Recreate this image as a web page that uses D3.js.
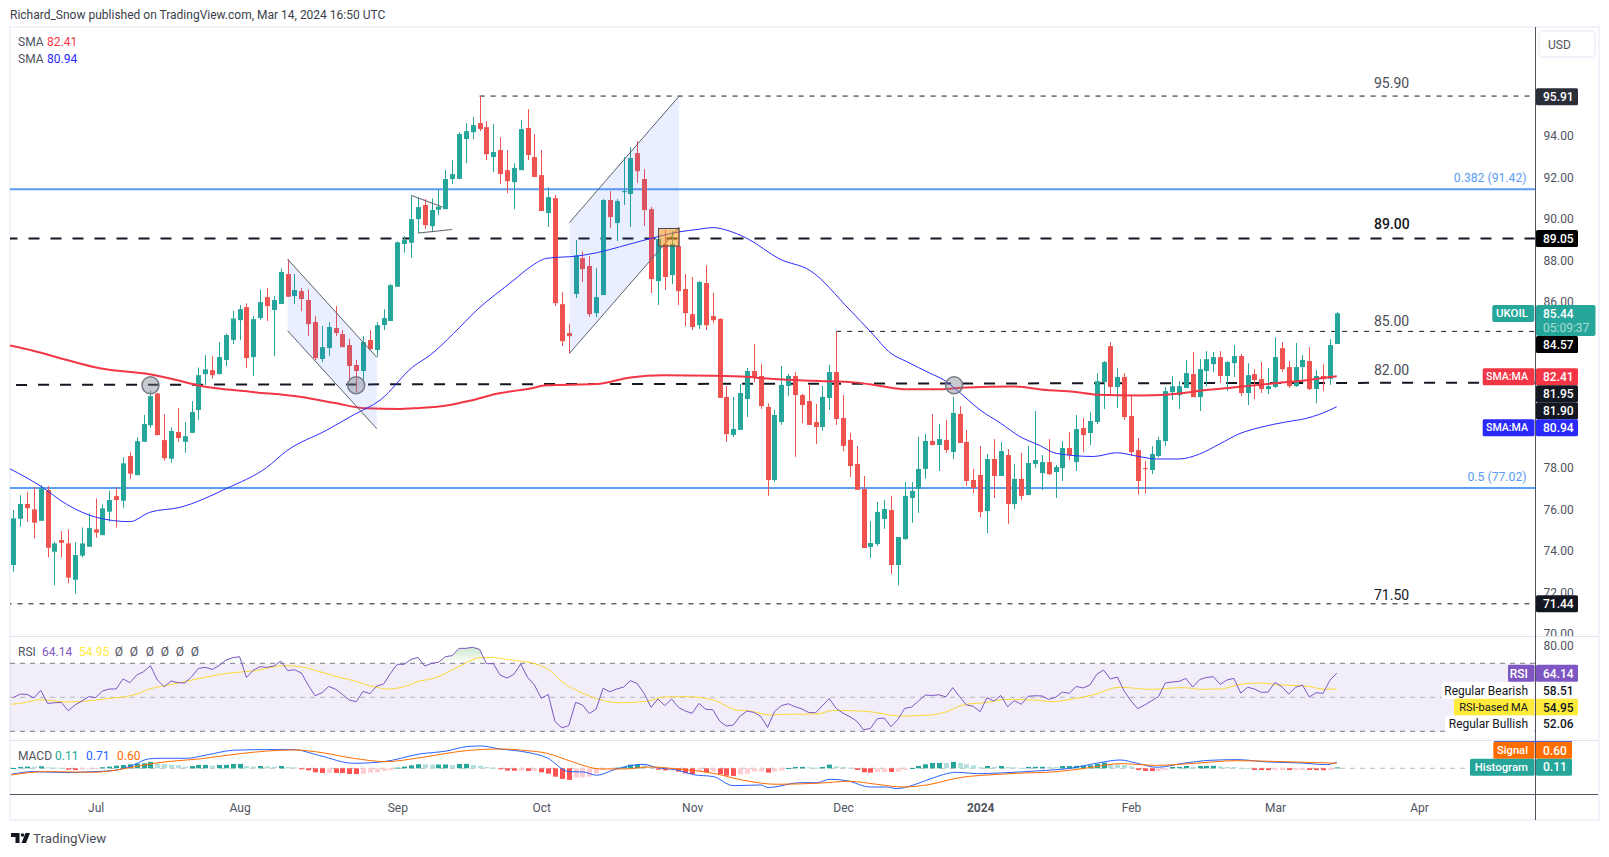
<!DOCTYPE html>
<html>
<head>
<meta charset="utf-8">
<title>UKOIL</title>
<script src="https://cdn.jsdelivr.net/npm/d3@7/dist/d3.min.js"></script>
<style>
    html, body { margin: 0; padding: 0; background: #fff; }
    svg { display: block; }
    text { font-family: Roboto, "Noto Sans", sans-serif; }
</style>
</head>
<body>
<div id="canvas"></div>
<script>
"use strict"

/* Configuration variables: drawing */
let svgWidth = 1609;
let svgHeight = 857;
let paneLeft = 10;
let axisX = 1535.5;
let frameRight = 1599;

/* Daily candles, oldest first: open, high, low, close */
let candles = [
    [73.31,75.96,72.99,75.56],[75.54,76.68,75.15,76.25],[76.25,76.84,75.40,76.05],[75.99,77.08,74.59,75.35],[75.44,77.16,75.44,77.00],
    [76.92,77.11,73.68,74.14],[73.95,74.43,72.34,74.35],[74.51,74.95,73.68,74.38],[74.35,75.03,72.42,72.70],[72.60,74.40,71.94,73.79],
    [73.76,75.12,73.68,74.35],[74.19,75.80,74.19,75.09],[75.03,76.52,74.62,74.87],[74.75,76.23,74.75,76.04],[75.88,76.89,75.40,76.44],
    [76.63,77.05,75.11,76.44],[76.41,78.50,76.07,78.21],[78.56,78.74,77.44,77.71],[77.64,79.46,77.64,79.28],[79.25,80.54,79.25,80.10],
    [80.05,81.71,79.93,81.45],[81.58,81.61,79.57,79.57],[79.33,80.58,78.34,78.46],[78.43,79.94,78.24,79.77],[79.72,80.87,79.25,79.43],
    [79.25,80.20,78.72,79.52],[79.68,81.21,79.68,80.68],[80.78,82.83,80.30,82.46],[82.51,83.43,81.98,82.74],[82.70,83.38,82.29,82.46],
    [82.51,84.05,82.51,83.33],[83.19,84.47,82.90,84.39],[84.15,85.56,83.96,85.19],[85.11,85.84,84.15,85.64],[85.74,85.92,82.80,83.28],
    [83.33,85.31,82.42,85.16],[85.21,86.59,85.11,85.98],[86.22,86.66,85.07,85.79],[85.60,86.27,83.38,86.08],[85.89,87.60,85.89,87.43],
    [87.33,88.05,86.24,86.24],[86.27,87.33,85.89,86.56],[86.51,86.66,85.55,86.13],[86.08,86.59,84.34,84.92],[85.02,85.31,83.19,83.28],
    [83.24,84.83,83.09,83.81],[83.77,85.02,83.38,84.78],[84.73,85.79,84.34,84.49],[84.44,84.63,83.81,83.81],[83.91,84.20,82.22,82.90],
    [82.95,83.19,81.64,82.66],[82.66,84.34,82.22,84.05],[84.15,84.63,83.67,83.72],[83.67,85.02,83.35,84.87],[84.87,85.64,84.63,85.21],
    [85.07,86.85,85.07,86.80],[86.72,88.90,86.72,88.86],[88.78,89.16,88.36,88.97],[88.84,91.12,88.12,89.98],[89.98,91.03,89.29,90.56],
    [90.66,90.95,89.50,89.69],[89.64,90.98,89.35,90.42],[90.43,91.43,90.17,90.58],[90.46,92.34,90.46,91.91],[91.91,92.82,91.67,92.15],
    [91.92,94.17,91.91,94.08],[93.84,94.61,92.68,94.22],[94.17,94.90,93.84,94.51],[94.61,95.91,94.22,94.32],[94.41,94.70,92.82,93.11],
    [92.97,94.56,92.25,93.21],[93.31,93.93,91.67,92.15],[92.34,93.31,91.23,91.81],[91.76,92.68,90.46,92.44],[92.34,94.75,92.34,94.32],
    [94.37,95.28,92.82,93.07],[92.97,94.08,92.01,92.01],[92.10,93.31,90.37,90.37],[90.27,91.52,89.60,91.04],[90.99,91.14,85.79,85.93],
    [85.88,86.46,83.86,84.10],[84.49,84.92,83.51,84.34],[86.37,88.97,86.17,88.23],[88.10,88.42,86.95,87.57],[87.72,88.20,85.26,85.40],
    [85.45,87.62,85.26,86.22],[86.32,90.95,86.32,90.90],[90.90,91.33,89.55,90.08],[89.79,90.95,88.92,90.85],[91.28,92.97,90.66,91.33],
    [91.19,93.45,89.60,92.92],[93.16,93.74,91.72,92.29],[91.91,92.39,89.64,90.42],[90.46,90.56,86.42,87.09],[86.99,89.26,85.84,89.02],
    [88.78,89.45,86.56,87.19],[87.28,89.40,86.85,88.78],[88.68,89.60,85.84,86.51],[86.61,87.33,84.82,85.45],[85.40,87.19,84.63,84.78],
    [84.87,86.99,84.68,86.95],[86.90,87.76,84.63,84.87],[85.31,86.42,84.97,85.11],[85.17,85.20,81.36,81.36],[81.41,81.94,79.24,79.62],
    [79.58,81.41,79.48,79.87],[79.82,82.03,79.82,81.60],[81.31,82.80,80.44,82.66],[82.66,83.96,82.13,82.37],[82.42,83.00,80.83,80.97],
    [80.93,81.10,76.64,77.41],[77.41,80.78,77.31,80.54],[80.20,82.90,80.06,81.99],[81.94,82.52,81.46,82.42],[82.42,82.61,78.52,81.50],
    [81.50,81.55,80.15,81.02],[81.21,82.03,80.06,80.06],[80.20,81.07,79.14,79.96],[79.96,81.94,79.77,81.41],[81.36,82.95,80.78,82.61],
    [82.61,84.57,80.06,80.35],[80.40,81.50,78.80,79.05],[79.34,79.67,77.55,78.08],[78.18,79.05,76.93,76.93],[76.97,77.60,74.13,74.13],
    [74.18,75.43,73.65,74.37],[74.32,76.35,74.23,75.87],[75.53,76.44,75.05,76.01],[75.96,76.64,72.88,73.31],[73.31,74.66,72.33,74.66],
    [74.56,77.31,74.52,76.64],[76.54,77.31,75.34,76.88],[76.97,79.48,75.82,77.94],[77.94,79.62,77.46,79.29],[79.29,80.59,79.09,79.09],
    [79.09,80.11,77.84,79.38],[79.34,80.30,78.71,78.85],[78.76,81.41,78.42,80.64],[80.59,80.97,79.19,79.19],[79.24,79.82,77.12,77.36],
    [77.41,77.94,76.78,77.02],[77.65,79.05,75.62,75.87],[75.91,78.66,74.85,78.42],[78.42,79.38,76.54,77.60],[77.60,79.24,77.60,78.80],
    [78.61,78.90,75.29,76.25],[76.25,78.18,76.01,77.46],[77.46,78.71,76.44,76.64],[76.68,79.05,76.68,78.23],[78.18,80.73,77.99,78.37],
    [77.74,78.61,76.92,78.27],[78.27,79.38,77.64,77.69],[77.79,78.13,76.54,78.03],[77.98,79.28,77.36,78.95],[78.95,79.72,78.37,78.61],
    [78.27,80.54,77.84,79.86],[79.91,80.39,78.75,79.57],[79.67,80.68,79.09,80.25],[80.20,82.56,80.10,82.17],[82.13,83.14,80.83,83.09],
    [83.86,84.05,81.50,81.89],[81.89,82.80,80.87,82.37],[82.37,82.56,80.30,80.44],[80.49,81.50,78.56,78.75],[78.85,79.43,76.71,77.36],
    [77.98,78.32,76.75,77.93],[77.89,79.04,77.69,78.66],[78.56,79.48,78.51,79.33],[79.28,81.89,79.04,81.69],[81.64,82.42,81.26,81.93],
    [81.50,82.17,80.83,81.93],[81.84,83.19,81.84,82.56],[82.51,83.57,81.40,81.40],[81.40,83.23,80.73,82.75],[82.66,83.62,81.93,83.23],
    [82.99,83.57,82.61,83.33],[83.33,83.62,82.08,82.42],[82.42,83.14,81.69,83.09],[83.04,83.91,82.37,83.38],[83.38,83.48,81.45,81.60],
    [81.60,83.04,81.02,82.46],[82.51,82.75,81.31,82.22],[82.27,83.09,81.60,81.79],[81.79,82.80,81.55,81.93],[81.89,84.29,81.84,83.33],
    [83.76,84.05,82.61,82.75],[82.85,83.14,81.84,81.93],[81.93,84.01,81.89,82.85],[82.85,83.43,82.13,83.19],[83.14,83.81,81.74,81.79],
    [81.79,82.70,81.11,82.42],[82.42,82.99,81.69,82.27],[82.28,84.20,81.99,83.91],[83.96,85.50,83.96,85.44]
];

/* Moving averages read at their bends: candle index, value */
let sma200 = [
    [-0.5,83.89],[2.9,83.64],[7.8,83.19],[12.6,82.79],[19.9,82.50],[23.3,82.26],[27.2,81.95],[34.5,81.66],[41.8,81.42],[46.7,81.13],
    [51.5,80.86],[56.4,80.83],[58.3,80.86],[63.2,81.00],[66.6,81.23],[70.5,81.56],[75.4,81.82],[77.8,81.97],[85.1,82.03],[90,82.35],
    [94.8,82.45],[102.1,82.43],[107,82.38],[109.4,82.31],[116.7,82.19],[123,82.10],[126.4,81.94],[130.3,81.78],[135.2,81.78],[139,81.87],
    [145.9,81.91],[150.7,81.74],[154.6,81.66],[158,81.52],[164.3,81.48],[168.2,81.52],[174,81.74],[178.9,81.90],[183.7,82.06],[188.6,82.22],
    [191.5,82.35],[193,82.41]
];
let sma50 = [
    [-0.5,77.95],[3.9,77.13],[7.8,76.23],[12.2,75.60],[17,75.40],[19.9,75.85],[24.3,76.09],[31.1,77.00],[36.9,78.00],[39.9,78.82],
    [45.7,79.81],[49.6,80.54],[53.5,81.26],[58.3,82.87],[60.8,83.43],[64.2,84.47],[67.6,85.60],[73,87.04],[75.4,87.68],[77.8,88.09],
    [82.2,88.20],[85.1,88.36],[88.5,88.65],[92.4,89.00],[97.2,89.37],[99.7,89.48],[102.1,89.57],[104,89.45],[107,89.05],[111.8,88.05],
    [116.2,87.50],[122,85.60],[125,84.56],[128,83.51],[130.3,83.11],[133.7,82.55],[135.7,82.23],[137.6,81.74],[141,80.78],[144,80.14],
    [146.8,79.50],[149.7,79.07],[152.1,78.69],[157.5,78.54],[160.9,78.72],[164.3,78.53],[166.7,78.42],[170,78.42],[173,78.66],[175.9,79.14],
    [178.9,79.65],[181.8,79.94],[185.7,80.21],[188.6,80.38],[192,80.78],[193,80.94]
];

/* RSI, one value per candle */
let rsi = [
    49.8,51.9,51.7,49.6,54.1,46.4,46.8,47.0,42.1,45.5,
    47.8,50.4,49.8,53.7,54.9,54.9,60.8,58.6,63.1,65.1,
    68.6,60.2,56.2,59.6,58.6,58.4,62.1,67.0,67.6,66.4,
    68.6,71.9,73.3,73.9,61.7,66.0,68.0,67.6,68.4,71.3,
    65.7,66.2,64.3,57.2,50.9,52.7,56.4,54.7,51.7,48.4,
    47.4,53.5,52.1,56.6,57.8,64.1,69.4,69.4,72.3,73.5,
    68.4,70.0,70.6,73.9,74.5,78.8,78.8,79.4,78.2,69.8,
    69.8,63.1,61.3,63.5,69.6,61.7,57.2,49.4,51.7,35.7,
    32.1,33.3,47.0,45.5,40.4,43.1,55.3,53.3,54.9,56.0,
    59.8,58.0,52.3,44.1,49.0,45.1,49.0,44.1,41.9,40.6,
    46.4,42.9,42.7,36.0,33.1,33.7,39.0,41.9,41.1,38.8,
    32.3,41.5,45.1,46.2,44.5,43.1,41.1,40.9,45.1,49.2,
    43.5,40.6,38.6,36.0,30.9,31.7,37.4,37.8,32.7,37.0,
    43.5,44.3,47.8,51.3,51.1,51.5,50.2,55.7,50.4,45.5,
    44.7,41.5,49.8,47.8,51.1,44.5,48.0,45.9,50.6,50.9,
    50.8,48.8,50.0,53.1,52.3,56.4,55.5,57.2,63.5,66.0,
    60.8,61.9,53.7,47.8,43.3,45.5,48.0,50.4,58.4,59.0,
    59.4,61.1,56.0,60.4,61.7,62.1,57.6,60.2,61.1,52.5,
    55.9,54.9,52.9,53.1,58.8,56.2,51.9,55.9,57.2,50.2,
    52.7,52.3,60.0,64.14
];

let rsiMa = [
    [-0.3,45.9],[1,46.4],[3.9,48.6],[7.8,47.2],[10.7,47.8],[14.1,49.4],[17.5,51.3],[19.9,54.9],[23.3,57.8],[27.2,61.1],
    [31.1,64.1],[35,65.5],[39.4,68.6],[41.8,68.0],[44.7,65.1],[47.2,62.1],[49.6,59.8],[52.5,56.2],[54.9,54.9],[56.9,56.2],
    [59.3,59.6],[61.3,61.1],[65.1,68.4],[68.1,73.3],[70,73.5],[71,72.9],[73.4,71.5],[75.4,70.4],[78,66.4],[80.7,57.2],
    [82.6,53.3],[84.6,49.8],[88.5,46.8],[92.4,47.6],[94.8,50.2],[98.2,50.4],[102.1,48.4],[105.5,42.5],[107.4,41.9],[110.4,39.6],
    [112.8,40.0],[117.2,40.2],[119.6,42.3],[124.5,41.7],[129.3,39.0],[133.2,39.4],[136.1,41.5],[138.5,45.5],[142,47.0],[144.9,48.8],
    [148.8,48.4],[151.7,47.4],[154.1,48.8],[157,50.9],[161.4,55.9],[165.8,54.7],[170.6,55.7],[173,54.7],[176,54.9],[178.9,57.6],
    [181.3,58.4],[185.2,57.2],[188.1,56.8],[191.5,54.7],[193,54.95]
];

/* MACD lines read at their bends: candle index, value */
let macdLine = [
    [-0.3,-0.71],[2.9,-0.39],[7.8,-0.51],[11.7,-0.39],[14.6,-0.27],[17.5,0.39],[19.7,1.10],[21.4,1.18],[25.3,1.18],[28.2,1.57],
    [32.1,2.12],[36.9,2.20],[40.8,2.20],[44.7,1.49],[49.6,0.59],[54,0.78],[59.3,1.69],[63.2,2.04],[66.1,2.55],[68.1,2.63],
    [71,2.27],[74.9,1.88],[77.8,1.25],[81,-0.39],[83.1,-0.43],[85.1,-0.82],[87.5,-0.20],[89.9,0.31],[91.9,0.47],[93.8,0.08],
    [96.8,-0.20],[99.2,-0.75],[102.1,-0.98],[105,-2.04],[109,-1.96],[110.1,-2.27],[114.7,-1.69],[117.2,-1.69],[119.1,-1.29],[121.5,-1.45],
    [125,-2.20],[127.4,-2.20],[128.8,-2.39],[131.3,-1.96],[133.7,-1.25],[137.6,-0.47],[140.5,-0.63],[143.9,-0.55],[149.3,-0.31],[154.1,0],
    [158.5,0.67],[161.4,0.98],[163.9,0.59],[166.8,0.12],[170.6,0.59],[174.5,0.94],[178.4,1.02],[182.8,0.75],[187.7,0.63],[191.5,0.43],[193,0.71]
];
let signalLine = [
    [-0.3,-0.78],[4.9,-0.39],[11.7,-0.47],[15.1,-0.20],[18.5,0.31],[22.4,0.78],[27.2,1.10],[33.1,1.73],[40.8,2.16],[44.7,1.88],
    [49.6,1.18],[54.4,0.78],[59.3,1.25],[66.1,2.08],[71,2.27],[74.9,2.08],[77.8,1.77],[81.2,0.86],[85.7,-0.08],[89,-0.08],
    [92.9,0.16],[96.8,-0.08],[102.1,-0.59],[106.5,-1.41],[111.3,-1.88],[117.2,-1.76],[122,-1.53],[125.9,-1.88],[129.8,-2.20],[133.2,-1.96],
    [138,-1.10],[143.9,-0.70],[146.3,-0.59],[152.2,-0.39],[157,0.08],[161.4,0.55],[166.8,0.35],[171.6,0.55],[178.4,0.90],[185.2,0.78],[190.1,0.67],[193,0.60]
];

/* MACD histogram, one value per candle */
let histogram = [
    0.04,0.16,0.20,0.18,0.24,0.12,0.08,0.04,-0.16,-0.20,
    -0.12,-0.04,-0.02,0.12,0.20,0.31,0.39,0.47,0.55,0.59,
    0.75,0.51,0.50,0.39,0.35,0.20,0.27,0.39,0.40,0.31,
    0.39,0.40,0.51,0.52,0.27,0.20,0.27,0.24,0.20,0.27,
    0.16,0.12,-0.04,-0.24,-0.47,-0.55,-0.54,-0.55,-0.56,-0.67,
    -0.68,-0.66,-0.51,-0.47,-0.31,-0.20,0.08,0.20,0.35,0.48,
    0.47,0.43,0.44,0.45,0.39,0.51,0.52,0.39,0.31,0.16,
    0.08,-0.04,-0.27,-0.28,-0.27,-0.31,-0.30,-0.47,-0.63,-0.98,
    -1.25,-1.37,-1.10,-1.06,-0.98,-0.63,-0.20,-0.08,0.08,0.16,
    0.43,0.47,0.39,0.20,-0.16,-0.24,-0.23,-0.39,-0.59,-0.67,
    -0.31,-0.47,-0.39,-0.67,-0.86,-0.90,-0.71,-0.63,-0.39,-0.38,
    -0.51,-0.39,-0.27,0.04,0.16,0.17,0.12,0.08,0.16,0.43,
    0.24,0.16,0.08,-0.20,-0.47,-0.51,-0.43,-0.42,-0.43,-0.39,
    -0.20,0.04,0.27,0.47,0.63,0.64,0.62,0.75,0.63,0.47,
    0.35,0.12,0.27,0.16,0.27,0.16,0.12,0.04,0.16,0.17,
    0.18,0.16,0.15,0.27,0.28,0.29,0.30,0.35,0.51,0.67,
    0.47,0.46,0.39,0.20,-0.20,-0.31,-0.32,-0.31,-0.20,0.16,
    0.17,0.27,0.16,0.27,0.28,0.29,0.24,0.16,0.15,0.04,
    0.02,-0.20,-0.21,-0.22,-0.21,-0.20,-0.21,-0.20,-0.19,-0.20,
    -0.21,-0.22,-0.21,0.11
];

/* Create drawing canvas */
let svg = d3.select("#canvas")
    .append("svg")
    .attr("width", svgWidth)
    .attr("height", svgHeight);

let defs = svg.append("defs");

defs.append("clipPath")
    .attr("id", "pane-clip")
    .append("rect")
    .attr("x", paneLeft)
    .attr("y", 27)
    .attr("width", axisX - paneLeft)
    .attr("height", 767);

/* Clip rect lies in the axis group's own translated coordinates */
defs.append("clipPath")
    .attr("id", "axis-clip")
    .append("rect")
    .attr("x", 0)
    .attr("y", 27)
    .attr("width", 70)
    .attr("height", 609);

/* Scales: candle index across, one value scale for each pane */
let x = d3.scaleLinear()
    .domain([0, 193])
    .range([13.33, 1336.73]);

let yPrice = d3.scaleLinear()
    .domain([94, 70])
    .range([135.7, 633.7]);

let yRsi = d3.scaleLinear()
    .domain([70, 30])
    .range([663.3, 731.3]);

let yMacd = d3.scaleLinear()
    .domain([3, -3])
    .range([742.8, 793.8]);

let candleUp = "#26a69a";
let candleDown = "#ef5350";
let fibBlue = "#5b9cf6";
let smaRed = "#f23645";
let smaBlue = "#2a2aff";
let rsiPurple = "#7e57c2";
let rsiYellow = "#fdd835";
let macdBlue = "#2962ff";
let macdOrange = "#ff6d00";
let axisGray = "#50535e";
let inkBlack = "#131722";
let shapeGray = "#5d606b";

/* Frame around the whole chart */
svg.append("rect")
    .attr("x", 10)
    .attr("y", 27)
    .attr("width", frameRight - 10)
    .attr("height", 793)
    .attr("fill", "none")
    .attr("stroke", "#f0f3fa")
    .attr("stroke-width", 2);

let pane = svg.append("g").attr("clip-path", "url(#pane-clip)");

/* Horizontal levels run below the candles */
let levels = [
    { price: 91.42, from: -1, width: 2, color: fibBlue, dash: null },
    { price: 77.02, from: -1, width: 2, color: fibBlue, dash: null },
    { price: 95.91, from: 68, width: 1, color: inkBlack, dash: "5,6" },
    { price: 89.05, from: -1, width: 2, color: inkBlack, dash: "11,11" },
    { price: 84.57, from: 120, width: 1, color: inkBlack, dash: "5,6" },
    { price: 71.44, from: -1, width: 1, color: inkBlack, dash: "5,6" }
];

pane.selectAll(".level")
    .data(levels)
    .join("line")
    .attr("class", "level")
    .attr("x1", function (d) { return x(d.from); })
    .attr("x2", axisX)
    .attr("y1", function (d) { return yPrice(d.price); })
    .attr("y2", function (d) { return yPrice(d.price); })
    .attr("stroke", function (d) { return d.color; })
    .attr("stroke-width", function (d) { return d.width; })
    .attr("stroke-dasharray", function (d) { return d.dash; });

/* The 82.00 level slopes very slightly */
let level82 = [[0.4, 81.99], [221.9, 82.10]];

pane.append("line")
    .attr("x1", x(level82[0][0]))
    .attr("y1", yPrice(level82[0][1]))
    .attr("x2", x(level82[1][0]))
    .attr("y2", yPrice(level82[1][1]))
    .attr("stroke", inkBlack)
    .attr("stroke-width", 2)
    .attr("stroke-dasharray", "11,11");

/* Candles */
function candleColor(d) {
    return d[3] >= d[0] ? candleUp : candleDown;
}

let candleGroups = pane.selectAll(".candle")
    .data(candles)
    .join("g")
    .attr("class", "candle");

candleGroups.append("line")
    .attr("x1", function (d, i) { return Math.round(x(i)) + 0.5; })
    .attr("x2", function (d, i) { return Math.round(x(i)) + 0.5; })
    .attr("y1", function (d) { return yPrice(d[1]); })
    .attr("y2", function (d) { return yPrice(d[2]); })
    .attr("stroke", candleColor)
    .attr("stroke-width", 1);

candleGroups.append("rect")
    .attr("x", function (d, i) { return Math.round(x(i)) - 2; })
    .attr("width", 5)
    .attr("y", function (d) { return yPrice(Math.max(d[0], d[3])); })
    .attr("height", function (d) {
        return Math.max(1, Math.abs(yPrice(d[0]) - yPrice(d[3])));
    })
    .attr("fill", candleColor);

/* Moving averages */
let smaLine = d3.line()
    .x(function (d) { return x(d[0]); })
    .y(function (d) { return yPrice(d[1]); })
    .curve(d3.curveMonotoneX);

pane.append("path")
    .attr("d", smaLine(sma200))
    .attr("fill", "none")
    .attr("stroke", smaRed)
    .attr("stroke-width", 2);

pane.append("path")
    .attr("d", smaLine(sma50))
    .attr("fill", "none")
    .attr("stroke", smaBlue)
    .attr("stroke-width", 1);

/* Drawn channels and the pennant */
let channels = [
    { from: 40, to: 53, upper: [88.05, 83.32], lower: [84.60, 79.88] },
    { from: 81.1, to: 97.1, upper: [89.81, 95.91], lower: [83.51, 89.58] }
];

channels.forEach(function (c) {
    let corners = [
        [c.from, c.upper[0]], [c.to, c.upper[1]],
        [c.to, c.lower[1]], [c.from, c.lower[0]]
    ];
    pane.append("polygon")
        .attr("points", corners.map(function (p) {
            return x(p[0]) + "," + yPrice(p[1]);
        }).join(" "))
        .attr("fill", macdBlue)
        .attr("fill-opacity", 0.1);
    [[corners[0], corners[1]], [corners[3], corners[2]]].forEach(function (edge) {
        pane.append("line")
            .attr("x1", x(edge[0][0]))
            .attr("y1", yPrice(edge[0][1]))
            .attr("x2", x(edge[1][0]))
            .attr("y2", yPrice(edge[1][1]))
            .attr("stroke", shapeGray)
            .attr("stroke-width", 1);
    });
});

let pennant = [
    [[58.05, 91.12], [62.6, 90.56]],
    [[59.07, 89.31], [64.0, 89.48]]
];

pane.selectAll(".pennant")
    .data(pennant)
    .join("line")
    .attr("class", "pennant")
    .attr("x1", function (d) { return x(d[0][0]); })
    .attr("y1", function (d) { return yPrice(d[0][1]); })
    .attr("x2", function (d) { return x(d[1][0]); })
    .attr("y2", function (d) { return yPrice(d[1][1]); })
    .attr("stroke", shapeGray)
    .attr("stroke-width", 1);

/* Orange marker box at the top of the rising channel */
pane.append("rect")
    .attr("x", x(94.1))
    .attr("y", yPrice(89.53))
    .attr("width", x(97.1) - x(94.1))
    .attr("height", yPrice(88.68) - yPrice(89.53))
    .attr("fill", "#ff9800")
    .attr("fill-opacity", 0.5)
    .attr("stroke", "#434651")
    .attr("stroke-width", 1);

/* Grey circles where price touched the 82.00 level */
let touches = [[20, 81.97], [50, 81.97], [137.2, 81.97]];

pane.selectAll(".touch")
    .data(touches)
    .join("circle")
    .attr("class", "touch")
    .attr("cx", function (d) { return x(d[0]); })
    .attr("cy", function (d) { return yPrice(d[1]); })
    .attr("r", 8.5)
    .attr("fill", "#787b86")
    .attr("fill-opacity", 0.4)
    .attr("stroke", "#787b86")
    .attr("stroke-width", 1.5);

/* RSI pane */
pane.append("rect")
    .attr("x", paneLeft)
    .attr("y", yRsi(70))
    .attr("width", axisX - paneLeft)
    .attr("height", yRsi(30) - yRsi(70))
    .attr("fill", rsiPurple)
    .attr("fill-opacity", 0.1);

[[70, "5,5", 1], [50, "5,5", 0.5], [30, "5,5", 1]].forEach(function (band) {
    pane.append("line")
        .attr("x1", paneLeft)
        .attr("x2", axisX)
        .attr("y1", yRsi(band[0]))
        .attr("y2", yRsi(band[0]))
        .attr("stroke", "#787b86")
        .attr("stroke-dasharray", band[1])
        .attr("stroke-opacity", band[2]);
});

/* Green fill where RSI is above 70 */
let overbought = defs.append("linearGradient")
    .attr("id", "overbought")
    .attr("gradientUnits", "userSpaceOnUse")
    .attr("x1", 0)
    .attr("x2", 0)
    .attr("y1", yRsi(80))
    .attr("y2", yRsi(70));
overbought.append("stop").attr("offset", 0).attr("stop-color", "#4caf50").attr("stop-opacity", 0.3);
overbought.append("stop").attr("offset", 1).attr("stop-color", "#4caf50").attr("stop-opacity", 0);

let rsiArea = d3.area()
    .x(function (d, i) { return x(i); })
    .y0(yRsi(70))
    .y1(function (d) { return yRsi(Math.max(d, 70)); });

pane.append("path")
    .attr("d", rsiArea(rsi))
    .attr("fill", "url(#overbought)");

let rsiLine = d3.line()
    .x(function (d, i) { return x(i); })
    .y(function (d) { return yRsi(d); });

let rsiMaLine = d3.line()
    .x(function (d) { return x(d[0]); })
    .y(function (d) { return yRsi(d[1]); })
    .curve(d3.curveMonotoneX);

pane.append("path")
    .attr("d", rsiMaLine(rsiMa))
    .attr("fill", "none")
    .attr("stroke", rsiYellow)
    .attr("stroke-width", 1);

pane.append("path")
    .attr("d", rsiLine(rsi))
    .attr("fill", "none")
    .attr("stroke", rsiPurple)
    .attr("stroke-width", 1);

/* MACD pane */
pane.append("line")
    .attr("x1", paneLeft)
    .attr("x2", axisX)
    .attr("y1", yMacd(0))
    .attr("y2", yMacd(0))
    .attr("stroke", "#787b86")
    .attr("stroke-opacity", 0.5)
    .attr("stroke-dasharray", "5,5");

function histogramColor(d, i) {
    let previous = i > 0 ? histogram[i - 1] : 0;
    if (d >= 0) {
        return d >= previous ? "#26a69a" : "#b2dfdb";
    }
    return d <= previous ? "#ff5252" : "#ffcdd2";
}

pane.selectAll(".hist")
    .data(histogram)
    .join("rect")
    .attr("class", "hist")
    .attr("x", function (d, i) { return Math.round(x(i)) - 2; })
    .attr("width", 5)
    .attr("y", function (d) { return Math.min(yMacd(d), yMacd(0)); })
    .attr("height", function (d) {
        return Math.max(1, Math.abs(yMacd(d) - yMacd(0)));
    })
    .attr("fill", histogramColor);

let macdPath = d3.line()
    .x(function (d) { return x(d[0]); })
    .y(function (d) { return yMacd(d[1]); })
    .curve(d3.curveMonotoneX);

pane.append("path")
    .attr("d", macdPath(macdLine))
    .attr("fill", "none")
    .attr("stroke", macdBlue)
    .attr("stroke-width", 1);

pane.append("path")
    .attr("d", macdPath(signalLine))
    .attr("fill", "none")
    .attr("stroke", macdOrange)
    .attr("stroke-width", 1);

/* Pane separators and the axis line */
[[636, "#e0e3eb"], [740, "#e0e3eb"], [794, axisGray]].forEach(function (rule) {
    svg.append("line")
        .attr("x1", paneLeft)
        .attr("x2", frameRight - 1)
        .attr("y1", rule[0] + 0.5)
        .attr("y2", rule[0] + 0.5)
        .attr("stroke", rule[1]);
});

svg.append("line")
    .attr("x1", axisX)
    .attr("x2", axisX)
    .attr("y1", 27)
    .attr("y2", 820)
    .attr("stroke", axisGray);

/* Axes */
function styleAxis(group, fontSize) {
    group.select(".domain").remove();
    group.selectAll("text")
        .attr("font-size", fontSize)
        .attr("fill", axisGray)
        .style("font-family", "Roboto, 'Noto Sans', sans-serif");
}

/* 80, 82, 84 and 96 sit behind the value tags, so only these show */
let priceAxis = d3.axisRight(yPrice)
    .tickValues([70, 72, 74, 76, 78, 86, 88, 90, 92, 94])
    .tickFormat(d3.format(".2f"))
    .tickSize(0)
    .tickPadding(8);

svg.append("g")
    .attr("clip-path", "url(#axis-clip)")
    .attr("transform", "translate(" + axisX + ",0)")
    .call(priceAxis)
    .call(styleAxis, 12);

let rsiAxis = d3.axisRight(yRsi)
    .tickValues([80])
    .tickFormat(d3.format(".2f"))
    .tickSize(0)
    .tickPadding(8);

svg.append("g")
    .attr("transform", "translate(" + axisX + ",-1)")
    .call(rsiAxis)
    .call(styleAxis, 12);

let monthNames = { 12: "Jul", 33: "Aug", 56: "Sep", 77: "Oct", 99: "Nov", 121: "Dec", 141: "2024", 163: "Feb", 184: "Mar", 205: "Apr" };

let timeAxis = d3.axisBottom(x)
    .tickValues(Object.keys(monthNames).map(Number))
    .tickFormat(function (d) { return monthNames[d]; })
    .tickSize(0)
    .tickPadding(9);

svg.append("g")
    .attr("transform", "translate(0,794)")
    .call(timeAxis)
    .call(styleAxis, 12)
    .selectAll("text")
    .attr("font-weight", function (d) { return d === 141 ? 700 : 400; });

/* Plain text helper */
function addText(px, py, value, size, color, anchor, weight) {
    return svg.append("text")
        .attr("x", px)
        .attr("y", py)
        .attr("dy", "0.35em")
        .attr("font-size", size)
        .attr("fill", color)
        .attr("text-anchor", anchor || "start")
        .attr("font-weight", weight || 400)
        .text(value);
}

/* Header and legends */
addText(10, 15, "Richard_Snow published on TradingView.com, Mar 14, 2024 16:50 UTC", 12, "#3a3e4a");

addText(18, 41.5, "SMA", 12, axisGray);
addText(47, 41.5, "82.41", 12, smaRed);
addText(18, 58.5, "SMA", 12, axisGray);
addText(47, 58.5, "80.94", 12, smaBlue);

addText(18, 652, "RSI", 12, axisGray);
addText(42, 652, "64.14", 12, rsiPurple);
addText(79, 652, "54.95", 12, "#ffeb3b");
[119, 134, 150, 165, 180, 195].forEach(function (px) {
    addText(px, 652, "Ø", 12, axisGray, "middle");
});

addText(18, 756, "MACD", 12, axisGray);
addText(55, 756, "0.11", 12, "#26a69a");
addText(86, 756, "0.71", 12, macdBlue);
addText(117, 756, "0.60", 12, macdOrange);

/* Level captions on the chart */
addText(1374, 83, "95.90", 14, "#4a4d57");
addText(1374, 224, "89.00", 14, inkBlack, "start", 500);
addText(1374, 321, "85.00", 14, "#4a4d57");
addText(1374, 370, "82.00", 14, "#4a4d57");
addText(1374, 595, "71.50", 14, inkBlack);
addText(1526.5, 178, "0.382 (91.42)", 12.2, fibBlue, "end");
addText(1526.5, 477, "0.5 (77.02)", 12.2, fibBlue, "end");

/* USD button */
svg.append("rect")
    .attr("x", 1539)
    .attr("y", 31)
    .attr("width", 56)
    .attr("height", 26)
    .attr("rx", 4)
    .attr("fill", "#fff")
    .attr("stroke", "#f0f3fa")
    .attr("stroke-width", 2);
addText(1548, 44.5, "USD", 12, axisGray);

/* Value tags on the price scale: centre y, name box and value box */
let tags = [
    { y: 96.7, value: "95.91", fill: "#2a2e39", color: "#fff" },
    { y: 238.4, value: "89.05", fill: "#000", color: "#fff" },
    { y: 344.4, value: "84.57", fill: "#000", color: "#fff" },
    { y: 376.7, value: "82.41", fill: smaRed, color: "#fff", name: "SMA:MA", nameLeft: 1482.7, nameSize: 10.6 },
    { y: 393.7, value: "81.95", fill: inkBlack, color: "#fff" },
    { y: 410.7, value: "81.90", fill: inkBlack, color: "#fff" },
    { y: 427.7, value: "80.94", fill: smaBlue, color: "#fff", name: "SMA:MA", nameLeft: 1482.7, nameSize: 10.6 },
    { y: 603.8, value: "71.44", fill: inkBlack, color: "#fff" },
    { y: 673.3, value: "64.14", fill: rsiPurple, color: "#fff", name: "RSI", nameLeft: 1508 },
    { y: 690.6, value: "58.51", fill: "#fff", color: inkBlack, name: "Regular Bearish", nameLeft: 1442, nameColor: inkBlack },
    { y: 707.3, value: "54.95", fill: "#ffeb3b", color: inkBlack, name: "RSI-based MA", nameLeft: 1454, nameColor: inkBlack, nameSize: 11 },
    { y: 724, value: "52.06", fill: "#fff", color: inkBlack, name: "Regular Bullish", nameLeft: 1445, nameColor: inkBlack },
    { y: 750.3, value: "0.60", fill: macdOrange, color: "#fff", name: "Signal", nameLeft: 1493.3, valueWidth: 36, nameSize: 11.2 },
    { y: 767.2, value: "0.11", fill: "#26a69a", color: "#fff", name: "Histogram", nameLeft: 1470, valueWidth: 36, nameSize: 11.4 }
];

/* Sliver of the hidden MACD tag above the Signal tag */
svg.append("rect")
    .attr("x", 1494)
    .attr("y", 741)
    .attr("width", 78)
    .attr("height", 1.5)
    .attr("fill", macdBlue);

tags.forEach(function (t) {
    if (t.name) {
        svg.append("rect")
            .attr("x", t.nameLeft)
            .attr("y", t.y - 8.5)
            .attr("width", 1534.5 - t.nameLeft)
            .attr("height", 17)
            .attr("fill", t.fill)
            .attr("rx", 1.5);
        addText(1528, t.y, t.name, t.nameSize || 12, t.nameColor || "#fff", "end", t.nameColor ? 400 : 500);
    }
    svg.append("rect")
        .attr("x", 1536)
        .attr("y", t.y - 8.5)
        .attr("width", t.valueWidth || 42)
        .attr("height", 17)
        .attr("fill", t.fill)
        .attr("rx", 1.5);
    addText(1543, t.y, t.value, 12, t.color, "start", 500);
});

/* Current price tag with countdown */
svg.append("rect")
    .attr("x", 1492.3)
    .attr("y", 305)
    .attr("width", 42)
    .attr("height", 17)
    .attr("rx", 2)
    .attr("fill", candleUp);
addText(1528, 313.4, "UKOIL", 11.5, "#fff", "end", 500);

svg.append("rect")
    .attr("x", 1536)
    .attr("y", 305)
    .attr("width", 59.5)
    .attr("height", 31)
    .attr("rx", 2)
    .attr("fill", candleUp);
addText(1543, 313.4, "85.44", 12, "#fff", "start", 500);
addText(1543, 327.7, "05:09:37", 12, "#fff").attr("fill-opacity", 0.6);

/* Footer logo and name */
let logo = svg.append("g").attr("fill", inkBlack);
logo.append("path").attr("d", "M11 833h8.5v10h-4v-6H11z");
logo.append("circle").attr("cx", 22.5).attr("cy", 835).attr("r", 1.8);
logo.append("path").attr("d", "M25.5 833h4.5l-4 10h-4.5z");
addText(33, 838.5, "TradingView", 13.3, "#4a4d57");
</script>
</body>
</html>
